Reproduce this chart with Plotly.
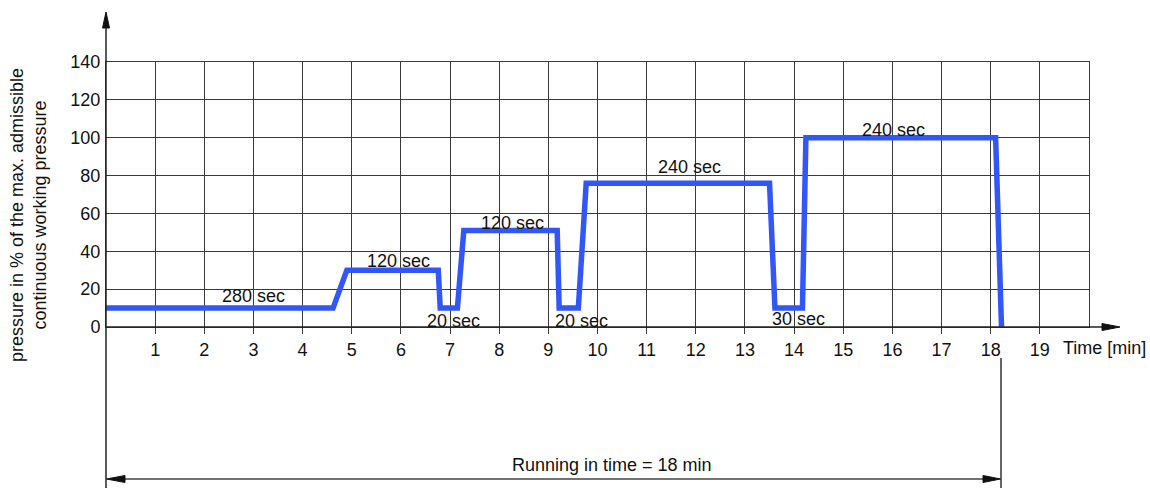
import plotly.graph_objects as go

# ---- data ----
time_min = [0, 4.62, 4.9, 6.76, 6.8, 7.15, 7.28, 9.18, 9.22, 9.61, 9.77, 13.5, 13.61, 14.17, 14.24, 18.1, 18.22]
pressure = [10, 10, 30, 30, 10, 10, 51, 51, 10, 10, 76, 76, 10, 10, 100, 100, 0]

label_text = ["280 sec", "120 sec", "20 sec", "120 sec", "20 sec", "240 sec", "30 sec", "240 sec"]
label_x = [3.0, 5.96, 7.08, 8.28, 9.68, 11.88, 14.08, 16.02]
label_y = [16.4, 34.9, 3.3, 55.0, 3.3, 84.4, 4.0, 104.0]

x_ticks = list(range(1, 20))
y_ticks = list(range(0, 141, 20))

FONT = "Liberation Sans, Arial, sans-serif"
GRID = "#3a3a3a"
BLUE = "#3157fb"

W, H = 1150, 488
L, R, T, B = 106, 61, 62, 161
pw, ph = W - L - R, H - T - B


def px(xp):
    return (xp - L) / pw


def py(yp):
    return (H - B - yp) / ph


fig = go.Figure()
fig.add_trace(go.Scatter(
    x=time_min, y=pressure, mode="lines",
    line=dict(color=BLUE, width=5.5),
    cliponaxis=False, hoverinfo="skip", showlegend=False,
))

for t, xv, yv in zip(label_text, label_x, label_y):
    fig.add_annotation(x=xv, y=yv, text=t, showarrow=False,
                       font=dict(family=FONT, size=18, color="#111"),
                       xanchor="center", yanchor="middle")

shapes = []
# y axis line with arrow
shapes.append(dict(type="line", xref="paper", yref="paper",
                   x0=0, x1=0, y0=py(488), y1=py(20),
                   line=dict(color="#222", width=1.5)))
shapes.append(dict(type="path", xref="paper", yref="paper",
                   path=f"M {px(106)} {py(12)} L {px(102.5)} {py(28)} L {px(109.5)} {py(28)} Z",
                   fillcolor="#111", line=dict(color="#111", width=1)))
# x axis line with arrow
shapes.append(dict(type="line", xref="paper", yref="paper",
                   x0=0, x1=px(1105), y0=0, y1=0,
                   line=dict(color="#222", width=1.5)))
shapes.append(dict(type="path", xref="paper", yref="paper",
                   path=f"M {px(1120)} {py(327)} L {px(1102)} {py(323.5)} L {px(1102)} {py(330.5)} Z",
                   fillcolor="#111", line=dict(color="#111", width=1)))
# dimension line for running-in time
shapes.append(dict(type="line", xref="paper", yref="paper",
                   x0=px(1001), x1=px(1001), y0=py(358), y1=py(488),
                   line=dict(color="#333", width=1.5)))
shapes.append(dict(type="line", xref="paper", yref="paper",
                   x0=px(115), x1=px(992), y0=py(479), y1=py(479),
                   line=dict(color="#444", width=1.5)))
shapes.append(dict(type="path", xref="paper", yref="paper",
                   path=f"M {px(106.5)} {py(479)} L {px(125)} {py(475.5)} L {px(125)} {py(482.5)} Z",
                   fillcolor="#111", line=dict(color="#111", width=1)))
shapes.append(dict(type="path", xref="paper", yref="paper",
                   path=f"M {px(1000.5)} {py(479)} L {px(983)} {py(475.5)} L {px(983)} {py(482.5)} Z",
                   fillcolor="#111", line=dict(color="#111", width=1)))

fig.add_annotation(xref="paper", yref="paper", x=px(612), y=py(465),
                   text="Running in time = 18 min", showarrow=False,
                   font=dict(family=FONT, size=18, color="#111"),
                   xanchor="center", yanchor="middle")
fig.add_annotation(xref="paper", yref="paper", x=px(1061), y=py(348),
                   text="Time [min]", showarrow=False,
                   font=dict(family=FONT, size=18, color="#111"),
                   xanchor="left", yanchor="middle")
fig.add_annotation(xref="paper", yref="paper", x=px(28), y=py(215),
                   text="pressure in % of the max. admissible<br>continuous working pressure",
                   textangle=-90, showarrow=False,
                   font=dict(family=FONT, size=18, color="#111"),
                   xanchor="center", yanchor="middle")

fig.update_layout(
    width=W, height=H,
    margin=dict(l=L, r=R, t=T, b=B, pad=0),
    paper_bgcolor="white", plot_bgcolor="white",
    shapes=shapes,
    showlegend=False,
    font=dict(family=FONT, size=18, color="#111"),
)
fig.update_xaxes(
    range=[0, 20], tickvals=x_ticks, ticktext=[str(v) for v in x_ticks],
    showgrid=True, gridcolor=GRID, gridwidth=1,
    ticks="outside", ticklen=6, tickcolor=GRID, tickwidth=1,
    showline=True, mirror=True, linecolor=GRID, linewidth=1,
    zeroline=False, tickfont=dict(family=FONT, size=18, color="#111"),
    fixedrange=True,
)
fig.update_yaxes(
    range=[0, 140], tickvals=y_ticks, ticktext=[str(v) for v in y_ticks],
    showgrid=True, gridcolor=GRID, gridwidth=1,
    ticks="", showline=True, mirror=True, linecolor=GRID, linewidth=1,
    zeroline=False, tickfont=dict(family=FONT, size=18, color="#111"),
    ticklabelstandoff=1, fixedrange=True,
)

fig.write_html("out.html", config={"displayModeBar": False},
               post_script="document.body.style.margin='0';document.body.style.overflow='hidden';")
